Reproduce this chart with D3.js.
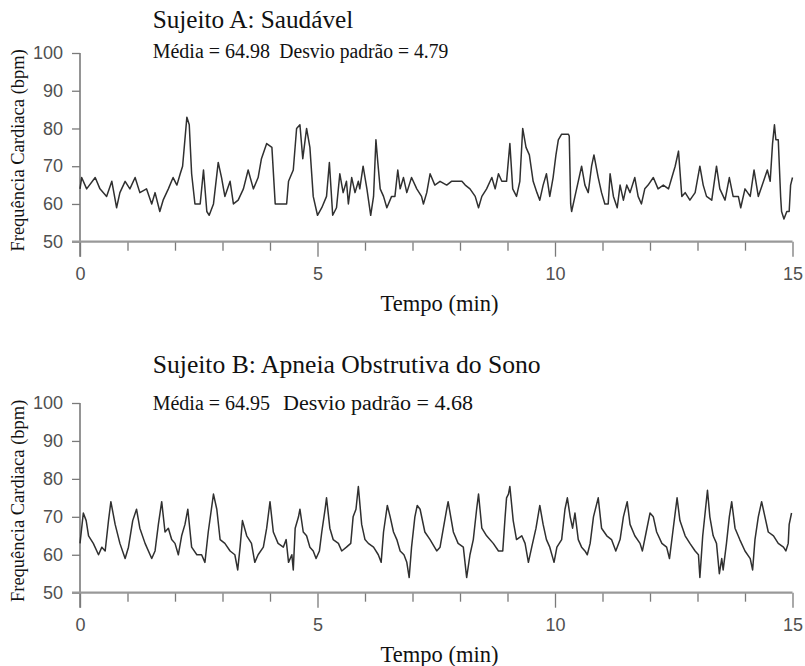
<!DOCTYPE html>
<html>
<head>
<meta charset="utf-8">
<script src="https://cdn.jsdelivr.net/npm/d3@7"></script>
<style>
  body { margin: 0; background: #fff; }
  svg { display: block; }
</style>
</head>
<body>
<div id="chart"></div>
<script>
// ---- data (minutes, bpm) ----
var timeA = [0.00, 0.035, 0.14, 0.32, 0.42, 0.56, 0.67, 0.77, 0.84, 0.95, 1.05, 1.16, 1.26, 1.40, 1.51, 1.58, 1.68, 1.75, 1.86, 1.96,
  2.04, 2.11, 2.16, 2.25, 2.30, 2.35, 2.42, 2.53, 2.60, 2.67, 2.72, 2.81, 2.91, 2.98, 3.05, 3.16, 3.23, 3.33, 3.44, 3.54,
  3.65, 3.75, 3.82, 3.93, 4.04, 4.11, 4.35, 4.39, 4.49, 4.56, 4.63, 4.69, 4.74, 4.77, 4.84, 4.91, 5.00, 5.09, 5.19, 5.25,
  5.32, 5.40, 5.47, 5.54, 5.61, 5.65, 5.72, 5.79, 5.86, 5.89, 5.96, 6.04, 6.12, 6.18, 6.23, 6.27, 6.32, 6.39, 6.46, 6.56,
  6.63, 6.69, 6.74, 6.81, 6.88, 6.98, 7.09, 7.19, 7.23, 7.30, 7.37, 7.47, 7.58, 7.72, 7.82, 7.93, 8.04, 8.11, 8.21, 8.32,
  8.39, 8.46, 8.56, 8.67, 8.74, 8.81, 8.88, 8.98, 9.05, 9.11, 9.19, 9.26, 9.32, 9.39, 9.46, 9.54, 9.62, 9.68, 9.75, 9.82,
  9.89, 9.96, 10.02, 10.07, 10.14, 10.28, 10.30, 10.33, 10.35, 10.42, 10.49, 10.56, 10.63, 10.70, 10.77, 10.82, 10.91, 10.98, 11.05, 11.12,
  11.16, 11.23, 11.31, 11.37, 11.44, 11.51, 11.58, 11.68, 11.75, 11.82, 11.89, 11.96, 12.07, 12.17, 12.28, 12.39, 12.46, 12.53, 12.60, 12.67,
  12.74, 12.84, 12.95, 13.05, 13.12, 13.19, 13.30, 13.40, 13.47, 13.58, 13.67, 13.75, 13.86, 13.91, 14.00, 14.11, 14.19, 14.28, 14.39, 14.47,
  14.53, 14.58, 14.62, 14.65, 14.70, 14.75, 14.77, 14.82, 14.88, 14.93, 14.96, 15.00];
var hrA = [64, 67, 64, 67, 64, 62, 66, 59, 63, 66, 64, 67, 63, 64, 60, 63, 58, 61, 64, 67,
  65, 68, 70, 83, 81, 68, 60, 60, 69, 58, 57, 60, 71, 67, 62, 66, 60, 61, 64, 69,
  64, 67, 72, 76, 75, 60, 60, 66, 69, 80, 81, 72, 77, 80, 75, 62, 57, 59, 62, 71,
  57, 59, 68, 63, 66, 60, 67, 63, 66, 64, 70, 64, 57, 62, 77, 71, 64, 62, 59, 62,
  62, 69, 64, 67, 63, 67, 64, 62, 60, 63, 68, 65, 66, 65, 66, 66, 66, 65, 64, 62,
  59, 62, 64, 67, 64, 68, 66, 66, 76, 64, 62, 66, 80, 75, 73, 66, 63, 61, 65, 68,
  62, 67, 73, 77, 78.5, 78.5, 78, 60, 58, 62, 66, 70, 65, 63, 70, 73, 67, 63, 60, 60,
  68, 62, 59, 65, 61, 65, 63, 67, 62, 60, 64, 65, 67, 64, 65, 64, 67, 70, 74, 62,
  63, 61, 63, 70, 65, 62, 61, 70, 64, 61, 67, 62, 62, 59, 64, 62, 69, 62, 66, 69,
  66, 76, 81, 77, 77, 62, 58, 56, 58, 58, 65, 67];

var timeB = [0.00, 0.07, 0.13, 0.18, 0.28, 0.39, 0.46, 0.53, 0.60, 0.65, 0.74, 0.84, 0.95, 1.02, 1.11, 1.19, 1.26, 1.37, 1.51, 1.58,
  1.65, 1.72, 1.79, 1.86, 1.93, 2.00, 2.07, 2.14, 2.21, 2.27, 2.35, 2.46, 2.56, 2.63, 2.70, 2.81, 2.88, 2.95, 3.05, 3.16,
  3.26, 3.32, 3.37, 3.42, 3.51, 3.61, 3.68, 3.75, 3.86, 3.93, 4.00, 4.07, 4.17, 4.28, 4.34, 4.39, 4.46, 4.49, 4.53, 4.60,
  4.63, 4.70, 4.77, 4.84, 4.91, 4.97, 5.04, 5.09, 5.16, 5.19, 5.26, 5.33, 5.44, 5.51, 5.61, 5.70, 5.75, 5.81, 5.86, 5.93,
  6.00, 6.07, 6.18, 6.28, 6.34, 6.39, 6.47, 6.53, 6.60, 6.67, 6.74, 6.82, 6.88, 6.93, 6.98, 7.05, 7.10, 7.16, 7.26, 7.37,
  7.51, 7.58, 7.65, 7.72, 7.75, 7.86, 7.96, 8.07, 8.14, 8.21, 8.28, 8.35, 8.39, 8.46, 8.56, 8.70, 8.81, 8.90, 8.95, 8.98,
  9.02, 9.05, 9.12, 9.19, 9.30, 9.37, 9.44, 9.51, 9.60, 9.68, 9.75, 9.82, 9.89, 9.98, 10.04, 10.14, 10.21, 10.26, 10.32, 10.37,
  10.42, 10.49, 10.56, 10.63, 10.68, 10.74, 10.81, 10.91, 10.98, 11.09, 11.19, 11.28, 11.37, 11.44, 11.52, 11.58, 11.68, 11.79, 11.84, 11.92,
  12.00, 12.07, 12.14, 12.25, 12.35, 12.41, 12.48, 12.57, 12.63, 12.74, 12.84, 12.95, 13.02, 13.05, 13.11, 13.21, 13.26, 13.33, 13.40, 13.46,
  13.51, 13.54, 13.61, 13.67, 13.72, 13.79, 13.89, 14.00, 14.11, 14.16, 14.21, 14.28, 14.35, 14.42, 14.49, 14.60, 14.70, 14.81, 14.86, 14.91,
  14.93, 14.98];
var hrB = [63, 71, 69, 65, 63, 60, 62, 61, 69, 74, 68, 63, 59, 62, 69, 72, 67, 63, 59, 61,
  68, 74, 66, 67, 64, 63, 60, 65, 68, 72, 62, 60, 60, 58, 66, 76, 72, 64, 63, 61,
  60, 56, 62, 69, 65, 63, 58, 60, 62, 67, 74, 66, 63, 62, 64, 58, 60, 56, 67, 70,
  72, 66, 65, 62, 61, 59, 61, 66, 72, 75, 67, 64, 63, 61, 62, 63, 70, 72, 78, 68,
  64, 63, 62, 60, 58, 66, 73, 70, 66, 64, 61, 60, 58, 54, 62, 70, 73, 72, 66, 64,
  61, 62, 67, 72, 74, 66, 63, 62, 54, 60, 64, 72, 76, 67, 65, 63, 61, 61, 70, 75,
  76, 78, 69, 64, 65, 63, 58, 62, 67, 73, 68, 64, 62, 58, 62, 64, 72, 75, 70, 67,
  71, 64, 62, 61, 60, 63, 70, 75, 67, 65, 64, 61, 64, 70, 74, 68, 65, 63, 61, 66,
  71, 70, 66, 63, 62, 59, 66, 75, 69, 65, 63, 61, 60, 54, 65, 77, 70, 65, 63, 55,
  59, 56, 63, 70, 74, 67, 64, 61, 59, 56, 64, 70, 74, 70, 66, 65, 63, 62, 61, 63,
  68, 71];

var yTicks = [50, 60, 70, 80, 90, 100];
var xLabels = [0, 5, 10, 15];
var xMinutes = d3.range(0, 16);
var titles = ["Sujeito A: Saudável", "Sujeito B: Apneia Obstrutiva do Sono"];
var means = ["64.98", "64.95"];
var sds = ["4.79", "4.68"];

var width = 805;
var height = 666;

var svg = d3.select("#chart")
  .append("svg")
  .attr("width", width)
  .attr("height", height);

var serif = "'Liberation Serif', 'Times New Roman', serif";
var sans = "'Liberation Sans', Arial, sans-serif";
var axisColor = "#7a7a7a";
var labelColor = "#505050";
var lineColor = "#303030";

// layout of the two panels
var panels = [
  { time: timeA, hr: hrA, top: 53, bottom: 241.7, titleY: 28.3, titleW: 200.6, statsY: 58.3, devX: 279.3, devW: 169 },
  { time: timeB, hr: hrB, top: 403, bottom: 592.7, titleY: 373.3, titleW: 388, statsY: 410, devX: 283, devW: 190 }
];

var x = d3.scaleLinear().domain([0, 15]).range([80, 792.5]);

panels.forEach(function (p, i) {
  var y = d3.scaleLinear().domain([50, 100]).range([p.bottom, p.top]);
  var g = svg.append("g");

  // title + stats
  g.append("text")
    .attr("x", 152.7)
    .attr("y", p.titleY)
    .attr("font-family", serif)
    .attr("font-size", 25)
    .attr("fill", "#111")
    .attr("textLength", p.titleW)
    .attr("lengthAdjust", "spacingAndGlyphs")
    .text(titles[i]);

  g.append("text")
    .attr("x", 152.7)
    .attr("y", p.statsY)
    .attr("font-family", serif)
    .attr("font-size", 20)
    .attr("fill", "#111")
    .text("Média = " + means[i]);

  g.append("text")
    .attr("x", p.devX)
    .attr("y", p.statsY)
    .attr("font-family", serif)
    .attr("font-size", 20)
    .attr("fill", "#111")
    .attr("textLength", p.devW)
    .attr("lengthAdjust", "spacingAndGlyphs")
    .text("Desvio padrão = " + sds[i]);

  // y axis
  var yAxis = g.append("g")
    .attr("transform", "translate(80,0)")
    .call(d3.axisLeft(y).tickValues(yTicks).tickSize(8).tickPadding(9));
  yAxis.select(".domain").remove();
  yAxis.selectAll("line").attr("stroke", axisColor).attr("stroke-width", 1.3);
  yAxis.selectAll("text")
    .attr("font-family", sans)
    .attr("font-size", 18)
    .attr("fill", labelColor);

  g.append("line")
    .attr("x1", 80).attr("x2", 80)
    .attr("y1", y(100)).attr("y2", p.bottom + 15)
    .attr("stroke", axisColor)
    .attr("stroke-width", 1.6);

  // x axis
  var xAxis = g.append("g")
    .attr("transform", "translate(0," + p.bottom + ")")
    .call(d3.axisBottom(x).tickValues(xMinutes).tickSize(9).tickPadding(17)
      .tickFormat(function (d) { return xLabels.indexOf(d) >= 0 ? d : ""; }));
  xAxis.select(".domain").remove();
  xAxis.selectAll("line")
    .attr("stroke", axisColor)
    .attr("stroke-width", 1.3)
    .attr("y2", function (d) { return xLabels.indexOf(d) >= 0 ? 15 : 9; });
  xAxis.selectAll("text")
    .attr("font-family", sans)
    .attr("font-size", 18)
    .attr("fill", labelColor);

  g.append("line")
    .attr("x1", 72).attr("x2", x(15))
    .attr("y1", p.bottom).attr("y2", p.bottom)
    .attr("stroke", "#999")
    .attr("stroke-width", 2.2);

  // axis titles
  g.append("text")
    .attr("transform", "translate(24," + ((p.top + p.bottom) / 2 + 3) + ") rotate(-90)")
    .attr("text-anchor", "middle")
    .attr("font-family", serif)
    .attr("font-size", 18.5)
    .attr("fill", "#111")
    .text("Frequência Cardiaca (bpm)");

  g.append("text")
    .attr("x", 439.5)
    .attr("y", p.bottom + 69.3)
    .attr("text-anchor", "middle")
    .attr("font-family", serif)
    .attr("font-size", 22.5)
    .attr("fill", "#111")
    .text("Tempo (min)");

  // heart-rate trace
  var line = d3.line()
    .x(function (d) { return x(d[0]); })
    .y(function (d) { return y(d[1]); });

  g.append("path")
    .datum(d3.zip(p.time, p.hr))
    .attr("d", line)
    .attr("fill", "none")
    .attr("stroke", lineColor)
    .attr("stroke-width", 1.5)
    .attr("stroke-linejoin", "round");
});
</script>
</body>
</html>
